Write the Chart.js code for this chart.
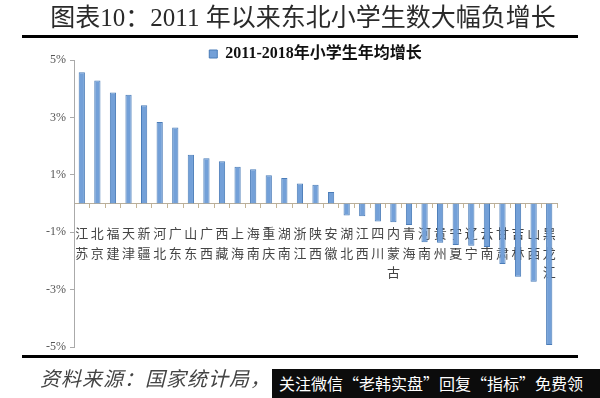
<!DOCTYPE html>
<html><head><meta charset="utf-8">
<script src="https://cdn.jsdelivr.net/npm/chart.js@4.4.0/dist/chart.umd.min.js"></script>
<style>
html,body{margin:0;padding:0;background:#fff;}
#wrap{position:relative;width:600px;height:398px;overflow:hidden;background:#fff;}
#title{position:absolute;left:0;top:3px;width:606px;text-align:center;font:25px "Liberation Serif","Noto Sans CJK SC";color:#2a2a2a;white-space:nowrap;line-height:30px;}
.rule{position:absolute;left:22px;width:556px;height:3px;background:#000;}
#src{position:absolute;left:40px;top:364px;font:italic 20px "Noto Sans CJK SC";color:#444;letter-spacing:1px;line-height:28px;white-space:nowrap}
#wm{position:absolute;left:272px;top:369px;width:328px;height:29px;background:#0c0c0c;color:#fff;font:16px "Noto Sans CJK SC";line-height:29px;padding-left:7px;box-sizing:border-box;white-space:nowrap}
#c{position:absolute;left:0;top:0}
</style></head>
<body><div id="wrap">
<canvas id="c" width="600" height="398"></canvas>
<div id="title">图表10：2011 年以来东北小学生数大幅负增长</div>
<div class="rule" style="top:35px"></div>
<div class="rule" style="top:355px"></div>
<div id="src">资料来源：国家统计局，</div>
<div id="wm">关注微信“老韩实盘”回复“指标”免费领</div>
</div>
<script>
const seriesName = '2011-2018年小学生年均增长';
const provinces = ['江苏','北京','福建','天津','新疆','河北','广东','山东','广西','西藏','上海','海南','重庆','湖南','浙江','陕西','安徽','湖北','江西','四川','内蒙古','青海','河南','贵州','宁夏','辽宁','云南','甘肃','吉林','山西','黑龙江'];
const growth = [4.57,4.29,3.87,3.79,3.42,2.84,2.65,1.70,1.58,1.47,1.28,1.19,0.98,0.89,0.70,0.65,0.40,-0.42,-0.44,-0.63,-0.65,-0.75,-1.35,-1.37,-1.45,-1.47,-1.52,-2.11,-2.55,-2.73,-4.93];
const yTicks = [-5,-3,-1,1,3,5];

new Chart(document.getElementById('c'), {
  type: 'bar',
  data: {
    labels: provinces.map(p => p.split('')),
    datasets: [{
      label: seriesName,
      data: growth,
      backgroundColor: '#73a0d8',
      borderColor: '#4a7cb8',
      borderWidth: 1,
      barPercentage: 0.4,
      categoryPercentage: 1
    }]
  },
  options: {
    responsive: false,
    animation: false,
    layout: { padding: { left: 0, right: 43, top: 40, bottom: 51 } },
    plugins: {
      tooltip: { enabled: false },
      legend: {
        display: true,
        position: 'top',
        fullSize: false,
        maxHeight: 20,
        labels: {
          boxWidth: 8, boxHeight: 8, padding: 6,
          color: '#111',
          font: { family: '"Liberation Serif","Noto Sans CJK SC"', size: 16, weight: 'bold' }
        }
      }
    },
    scales: {
      x: {
        position: { y: 0 },
        grid: { display: true, drawOnChartArea: false, drawTicks: true, tickLength: 4, color: '#c4b597', offset: true },
        border: { display: true, color: '#b9ae9a', width: 1 },
        ticks: {
          autoSkip: false, maxRotation: 0, minRotation: 0, padding: 16,
          color: '#444',
          font: { family: '"Noto Sans CJK SC"', size: 13, lineHeight: 1.5 }
        }
      },
      y: {
        min: -5, max: 5,
        afterFit: s => { s.width = 74; },
        afterBuildTicks: s => { s.ticks = yTicks.map(v => ({ value: v })); },
        grid: { display: true, drawOnChartArea: false, drawTicks: true, tickLength: 4, color: '#aaa' },
        border: { display: true, color: '#aaa', width: 1 },
        ticks: {
          padding: 4,
          color: '#555',
          font: { family: '"Liberation Serif"', size: 12 },
          callback: v => v + '%'
        }
      }
    }
  }
});
</script>
</body></html>
